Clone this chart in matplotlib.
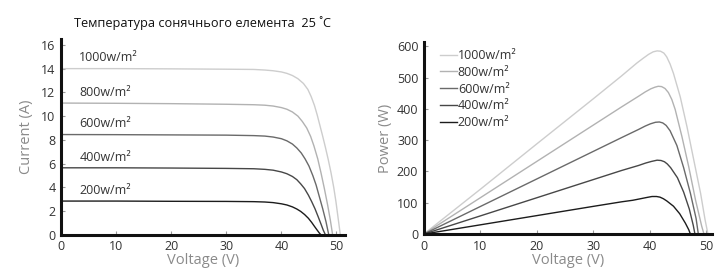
import matplotlib
matplotlib.use("Agg")
import matplotlib.pyplot as plt

plt.rcParams['font.family'] = ['Open Sans', 'DejaVu Sans']

# irradiance levels
labels = ['1000w/m²', '800w/m²', '600w/m²', '400w/m²', '200w/m²']
colors = ['#cdcdcd', '#b2b2b2', '#6a6a6a', '#474747', '#1c1c1c']

# I-V curves (voltage, current)
iv_v = [
    [0, 10, 20, 30, 35, 37, 38.5, 40, 41, 42, 43, 44, 44.8, 45.4, 46.0, 46.5, 47.0, 47.5, 48.0, 48.5, 49.0, 49.5, 49.9, 50.3, 50.7],
    [0, 10, 20, 30, 35, 37, 38.5, 40, 41, 42, 43, 43.8, 44.6, 45.3, 45.9, 46.6, 47.2, 47.8, 48.4, 48.9, 49.3],
    [0, 10, 20, 30, 35, 37, 38.5, 40, 41, 42, 42.8, 43.6, 44.3, 45.0, 45.7, 46.3, 46.9, 47.5, 48.1, 48.6],
    [0, 10, 20, 30, 35, 37, 38.5, 40, 41, 42, 42.8, 43.5, 44.2, 44.9, 45.5, 46.1, 46.7, 47.2, 47.6, 48.0],
    [0, 10, 20, 30, 35, 37, 38.5, 40, 41, 42, 42.8, 43.5, 44.2, 44.9, 45.5, 46.0, 46.5, 46.9, 47.2],
]
iv_i = [
    [14.0, 14.0, 13.98, 13.95, 13.93, 13.88, 13.82, 13.72, 13.6, 13.42, 13.15, 12.75, 12.25, 11.65, 10.9, 10.1, 9.2, 8.3, 7.35, 6.35, 5.25, 4.0, 2.8, 1.4, 0],
    [11.1, 11.08, 11.05, 11.0, 10.96, 10.92, 10.85, 10.72, 10.58, 10.35, 10.0, 9.55, 9.0, 8.3, 7.5, 6.4, 5.2, 3.9, 2.5, 1.2, 0],
    [8.45, 8.44, 8.42, 8.4, 8.36, 8.32, 8.24, 8.1, 7.92, 7.65, 7.32, 6.9, 6.4, 5.8, 5.0, 4.2, 3.2, 2.2, 1.1, 0],
    [5.65, 5.65, 5.63, 5.6, 5.57, 5.52, 5.45, 5.3, 5.15, 4.92, 4.65, 4.3, 3.9, 3.35, 2.8, 2.2, 1.5, 0.9, 0.4, 0],
    [2.85, 2.85, 2.83, 2.82, 2.8, 2.77, 2.72, 2.62, 2.52, 2.36, 2.18, 1.98, 1.72, 1.4, 1.05, 0.72, 0.4, 0.15, 0],
]

# P-V curves (voltage, power)
pv_v = [
    [0, 10, 20, 30, 35, 37.7, 38.8, 39.8, 40.6, 41.3, 41.9, 42.5, 43.0, 43.6, 44.2, 45.4, 46.6, 47.8, 49.0, 49.8, 50.3],
    [0, 10, 20, 30, 35, 38, 39.2, 40.2, 40.9, 41.5, 42.1, 42.7, 43.3, 43.9, 44.5, 45.7, 46.9, 48.1, 49.2, 49.6],
    [0, 10, 20, 30, 35, 38, 39.2, 40.1, 41.0, 41.7, 42.3, 42.9, 43.6, 44.8, 46.0, 47.2, 48.2, 48.6],
    [0, 10, 20, 30, 35, 38, 39.3, 40.3, 41.3, 42.0, 42.6, 43.1, 43.7, 44.9, 46.0, 47.0, 47.7, 48.0],
    [0, 10, 20, 30, 35, 37, 38.4, 39.5, 40.4, 41.2, 41.8, 42.4, 43.0, 44.2, 45.3, 46.3, 46.9, 47.2],
]
pv_p = [
    [0, 143, 288, 432, 505, 546, 561, 574, 582, 585, 584, 578, 566, 543, 513, 438, 342, 236, 130, 45, 0],
    [0, 116, 232, 348, 406, 440, 454, 464, 469, 472, 471, 465, 452, 430, 398, 311, 215, 109, 25, 0],
    [0, 88, 176, 264, 308, 334, 345, 352, 357, 358, 355, 347, 330, 283, 212, 130, 50, 0],
    [0, 58, 116, 174, 203, 219, 227, 232, 236, 235, 231, 224, 212, 180, 134, 80, 28, 0],
    [0, 29.5, 59, 88.5, 103, 108, 113, 117, 120, 120, 118, 113, 106, 89, 65, 35, 14, 0],
]

fig = plt.figure(figsize=(7.22, 2.79), dpi=100)
ax1 = fig.add_axes([0.0845, 0.158, 0.393, 0.7025])
ax2 = fig.add_axes([0.587, 0.161, 0.399, 0.688])

for i in range(len(labels)):
    ax1.plot(iv_v[i], iv_i[i], color=colors[i], lw=1.0)
    ax1.text(3.3, iv_i[i][0] + 0.35, labels[i], fontsize=9, color='#333333', va='bottom')
    ax2.plot(pv_v[i], pv_p[i], color=colors[i], lw=1.0, label=labels[i])

ax1.set_xlim(0, 51.5)
ax1.set_ylim(0, 16.5)
ax1.set_xticks([0, 10, 20, 30, 40, 50])
ax1.set_yticks([0, 2, 4, 6, 8, 10, 12, 14, 16])
ax1.set_xlabel('Voltage (V)', color='#8a8a8a', fontsize=10.5, labelpad=0)
ax1.set_ylabel('Current (A)', color='#8a8a8a', fontsize=10.5, labelpad=5)

ax2.set_xlim(0, 51)
ax2.set_ylim(0, 613)
ax2.set_xticks([0, 10, 20, 30, 40, 50])
ax2.set_yticks([0, 100, 200, 300, 400, 500, 600])
ax2.set_xlabel('Voltage (V)', color='#8a8a8a', fontsize=10.5, labelpad=0)
ax2.set_ylabel('Power (W)', color='#8a8a8a', fontsize=10.5, labelpad=3)
ax2.legend(loc='upper left', bbox_to_anchor=(0.04, 0.99), frameon=False,
           fontsize=9, handlelength=1.3, handletextpad=0.1, labelspacing=0.3,
           borderaxespad=0, labelcolor='#333333')

for ax in (ax1, ax2):
    for s in ('top', 'right'):
        ax.spines[s].set_visible(False)
    for s in ('left', 'bottom'):
        ax.spines[s].set_linewidth(2.2)
        ax.spines[s].set_color('#111111')
    ax.tick_params(direction='in', length=3, width=0.8, color='#999999',
                   labelsize=9, labelcolor='#333333', pad=4)

fig.text(0.281, 0.905, 'Температура сонячнього елемента  25 ˚C', fontsize=9.2, color='#111111', ha='center')

fig.savefig('out.png', dpi=100)
